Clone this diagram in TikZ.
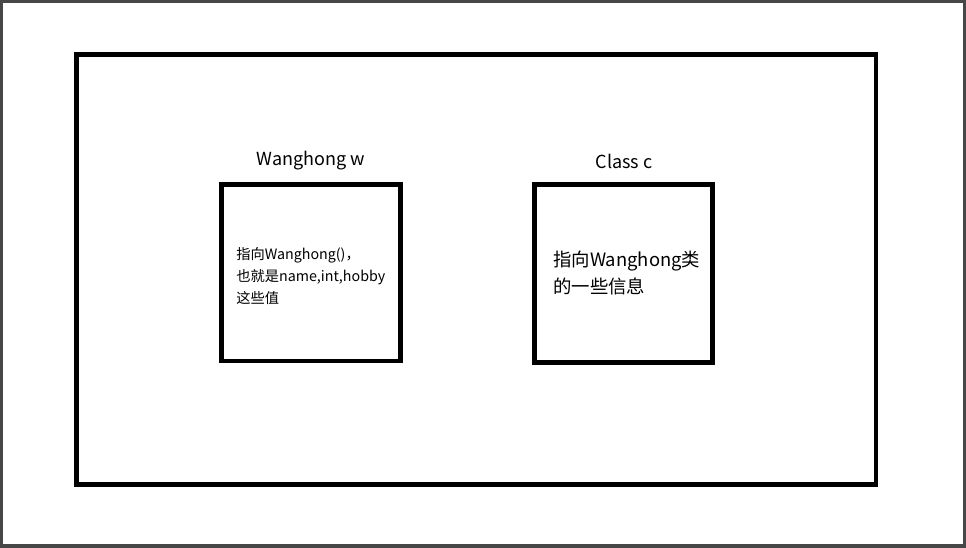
\documentclass[tikz,border=0pt]{standalone}
\usepackage{fontspec}
\setmainfont{Noto Sans CJK SC}
\begin{document}
\begin{tikzpicture}[x=0.75pt,y=-0.75pt,
  box/.style={draw=black,line width=3.7pt,line cap=rect},
  title/.style={font=\fontsize{13.5pt}{16pt}\selectfont,inner sep=0pt},
  body/.style={inner sep=0pt,align=left,anchor=north west}]
% page frame
\fill[black!72] (0,0) rectangle (966,548);
\fill[white] (3,3) rectangle (963,544);
\useasboundingbox (0,0) rectangle (966,548);
% outer container
\draw[box] (76.5,54.5) rectangle (876,484.5);
% object box and class box
\draw[box] (221.5,184.5) rectangle (400.5,361);
\draw[box] (534.5,184.5) rectangle (712.5,362.5);
\node[title] (wt) at (311,161) {Wanghong w};
\node[title] (ct) at (624,161) {Class c};
\node[body,font=\fontsize{10.7pt}{16.5pt}\selectfont] (wb) at (236,247)
  {指向Wanghong()，\\也就是name,int,hobby\\这些值};
\node[body,font=\fontsize{13.8pt}{20.3pt}\selectfont] (cb) at (553,251)
  {指向Wanghong类\\的一些信息};
\end{tikzpicture}
\end{document}
